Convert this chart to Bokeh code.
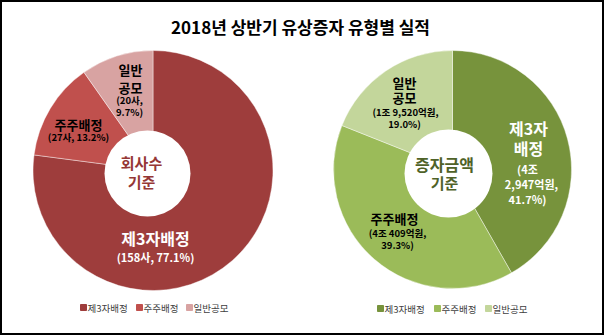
import numpy as np
from bokeh.plotting import figure
from bokeh.models import Range1d
from bokeh.core.properties import value
from bokeh.embed import file_html
from bokeh.resources import INLINE

# ---- data ----
title = "2018년 상반기 유상증자 유형별 실적"
categories = ["제3자배정", "주주배정", "일반공모"]
company_counts = [158, 27, 20]
company_pcts = [77.1, 13.2, 9.7]
amount_eok = [42947, 40409, 19520]
amount_pcts = [41.7, 39.3, 19.0]
left_colors = ["#9E3D3C", "#C0504D", "#D8A3A2"]
right_colors = ["#77933C", "#9BBB59", "#C3D69B"]
left_center = ["회사수", "기준"]
right_center = ["증자금액", "기준"]

W, H = 604, 335
FONT = value("Noto Sans CJK KR")

p = figure(width=W, height=H, x_range=Range1d(0, W), y_range=Range1d(0, H),
           output_backend="svg", toolbar_location=None, min_border=0)
p.axis.visible = False
p.grid.visible = False
p.outline_line_color = "black"
p.outline_line_width = 3
p.background_fill_color = "white"


def Y(py):
    return H - py


def donut(cx, cy, r, vals, colors, hx, hy, hr):
    v = np.array(vals, dtype=float)
    frac = np.cumsum(v) / v.sum()
    start_cw = np.concatenate([[0.0], frac[:-1]]) * 2 * np.pi
    end_cw = frac * 2 * np.pi
    start = np.pi / 2 - start_cw
    end = np.pi / 2 - end_cw
    p.wedge(x=cx, y=Y(cy), radius=r, start_angle=start, end_angle=end,
            direction="clock", fill_color=colors, line_color="white",
            line_width=0.6, line_alpha=0.7)
    p.circle(x=[hx], y=[Y(hy)], radius=hr, fill_color="white", line_color=None)


donut(152.5, 170, 120, company_counts, left_colors, 147, 173, 43)
donut(452, 169, 119, amount_eok, right_colors, 448, 173, 44)


def txt(x, y, s, size, color="black", bold=True):
    p.text(x=[x], y=[Y(y)], text=[s], text_font=FONT, text_font_size=f"{size}px",
           text_font_style="bold" if bold else "normal", text_color=color,
           text_align="center", text_baseline="middle")


# title
txt(300, 26, title, 17)

# left labels
txt(130, 69, "일반", 13)
txt(130, 87, "공모", 13)
txt(129, 99, f"({company_counts[2]}사,", 9.5)
txt(129, 111, f"{company_pcts[2]}%)", 9.5)
txt(78, 124, categories[1], 13)
txt(78, 136, f"({company_counts[1]}사, {company_pcts[1]}%)", 9.5)
txt(155, 237, categories[0], 16, "white")
txt(155, 256, f"({company_counts[0]}사, {company_pcts[0]}%)", 11, "white")
txt(141, 162, left_center[0], 15, "#953735")
txt(141, 181, left_center[1], 15, "#953735")


def eok_str(v):
    jo, rest = divmod(v, 10000)
    return f"{jo}조 {rest:,}억원"


# right labels
txt(404, 82, "일반", 13)
txt(404, 97, "공모", 13)
txt(405, 111, f"({eok_str(amount_eok[2])},", 9.5)
txt(404, 123, f"{amount_pcts[2]}%)", 9.5)
txt(528, 127, "제3자", 16, "white")
txt(528, 147, "배정", 16, "white")
jo0, rest0 = divmod(amount_eok[0], 10000)
txt(527, 168, f"({jo0}조", 11, "white")
txt(531, 183, f"{rest0:,}억원,", 11, "white")
txt(527, 198, f"{amount_pcts[0]}%)", 11, "white")
txt(394, 218, categories[1], 13)
txt(397, 232, f"({eok_str(amount_eok[1])},", 9.5)
txt(397, 244, f"{amount_pcts[1]}%)", 9.5)
txt(444, 163, right_center[0], 16, "#4F6228")
txt(444, 182, right_center[1], 15, "#4F6228")

# legends
def legend(xs, colors, y):
    p.scatter(x=[x + 3 for x in xs], y=[Y(y)] * len(xs), marker="square", size=6,
              fill_color=colors, line_color=colors)
    p.text(x=[x + 7 for x in xs], y=[Y(y)] * len(xs), text=categories,
           text_font=FONT, text_font_size="9.5px", text_color="#404040",
           text_align="left", text_baseline="middle")


legend([80, 136, 186], left_colors, 307)
legend([377, 434, 485], right_colors, 308)

open("out.html", "w").write(file_html(p, INLINE))
